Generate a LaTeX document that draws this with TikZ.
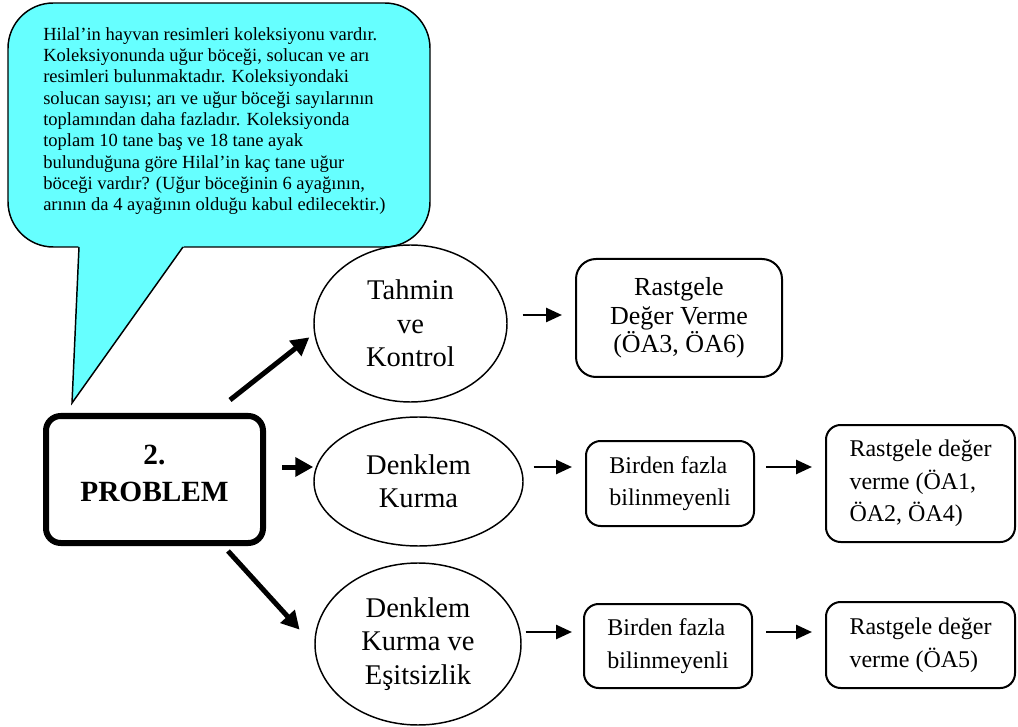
\documentclass[tikz,border=0pt]{standalone}
\usepackage{fontspec}
\setmainfont{Liberation Serif}
\usetikzlibrary{shapes.geometric,arrows.meta,calc}
\definecolor{bubble}{RGB}{102,255,255}
\begin{document}
\begin{tikzpicture}[x=0.75pt,y=-0.75pt,
  oval/.style={draw, line width=1.1pt, ellipse, inner sep=0pt, align=center,
    font=\fontsize{21.4}{25}\selectfont},
  bigbox/.style={draw, line width=1.5pt, rounded corners=15pt, inner sep=0pt, align=center,
    font=\fontsize{19.5}{21.4}\selectfont},
  smallbox/.style={draw, line width=1.5pt, rounded corners=11pt, inner sep=0pt, align=left,
    font=\fontsize{18}{24.4}\selectfont},
  probbox/.style={draw, line width=4.5pt, rounded corners=11pt, inner sep=0pt, align=center,
    font=\bfseries\fontsize{22}{27.75}\selectfont},
  thinarrow/.style={line width=1.9pt, -{Triangle[length=12pt,width=10.5pt]}},
  thickarrow/.style={line width=3.75pt, -{Triangle[length=13.5pt,width=14pt]}}
]
\useasboundingbox (0,0) rectangle (1018,727);

% speech bubble with the problem text
\draw[line width=1.1pt, fill=bubble, rounded corners=34pt] (8,3) rectangle (430,247);
\fill[bubble] (78.5,245.2) -- (72,403) -- (184.5,245.2) -- cycle;
\draw[line width=1.1pt, line join=miter] (79,247) -- (72,403) -- (183,247);
\node[anchor=north west, inner sep=0pt, align=left, font=\fontsize{13.9}{16}\selectfont] (txt) at (43,27)
  {Hilal’in hayvan resimleri koleksiyonu vardır.\\
   Koleksiyonunda uğur böceği, solucan ve arı\\
   resimleri bulunmaktadır. Koleksiyondaki\\
   solucan sayısı; arı ve uğur böceği sayılarının\\
   toplamından daha fazladır. Koleksiyonda\\
   toplam 10 tane baş ve 18 tane ayak\\
   bulunduğuna göre Hilal’in kaç tane uğur\\
   böceği vardır? (Uğur böceğinin 6 ayağının,\\
   arının da 4 ayağının olduğu kabul edilecektir.)};

% central problem box
\node[probbox, minimum width=217*0.75pt, minimum height=127*0.75pt] (p) at (154.5,479.5)
  {2.\\PROBLEM\\[-17.75pt]\mbox{}};

% strategies
\node[oval, minimum width=193*0.75pt, minimum height=157*0.75pt] (e1) at (410.5,323.5) {Tahmin\\ve\\Kontrol};
\node[oval, minimum width=209*0.75pt, minimum height=129*0.75pt] (e2) at (418.5,481.5) {Denklem\\Kurma};
\node[oval, minimum width=206*0.75pt, minimum height=162*0.75pt] (e3) at (418,644) {Denklem\\Kurma ve\\Eşitsizlik};

% outcomes
\node[bigbox, minimum width=206*0.75pt, minimum height=118*0.75pt] (b1) at (679,318)
  {Rastgele\\Değer Verme\\(ÖA3, ÖA6)};
\node[smallbox, minimum width=168*0.75pt, minimum height=85*0.75pt] (b2a) at (670,483.5)
  {Birden fazla\\bilinmeyenli};
\node[smallbox, minimum width=189*0.75pt, minimum height=117*0.75pt] (b2b) at (920.5,483.5)
  {Rastgele değer\\verme (ÖA1,\\ÖA2, ÖA4)};
\node[smallbox, minimum width=168*0.75pt, minimum height=84*0.75pt] (b3a) at (668,646)
  {Birden fazla\\bilinmeyenli};
\node[smallbox, minimum width=189*0.75pt, minimum height=86*0.75pt] (b3b) at (920.5,645)
  {Rastgele değer\\verme (ÖA5)};

% thick arrows from the problem
\draw[thickarrow, shorten >=4.5pt] ($(p.north east)+(-36,-13)$) -- (e1.186);
\draw[thickarrow, shorten <=12pt] (p.east |- 0,467) -- (e2.west |- 0,467);
\draw[thickarrow, shorten >=16.4pt] ($(p.south east)+(-38,5)$) -- (e3.181);

% thin arrows between stages
\draw[thinarrow, shorten <=11.25pt, shorten >=9.75pt] (e1.east |- 0,315) -- (b1.west |- 0,315);
\draw[thinarrow, shorten <=7.5pt, shorten >=9.75pt] (e2.east |- 0,467) -- (b2a.west |- 0,467);
\draw[thinarrow, shorten <=8.25pt, shorten >=9.75pt] (b2a.east |- 0,467) -- (b2b.west |- 0,467);
\draw[thinarrow, shorten <=3pt, shorten >=8.25pt] (e3.east |- 0,632) -- (b3a.west |- 0,632);
\draw[thinarrow, shorten <=9.75pt, shorten >=9.75pt] (b3a.east |- 0,632) -- (b3b.west |- 0,632);
\end{tikzpicture}
\end{document}
